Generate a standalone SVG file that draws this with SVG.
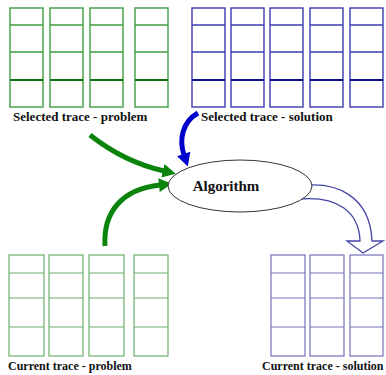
<svg xmlns="http://www.w3.org/2000/svg" width="386" height="375" viewBox="0 0 386 375">
<defs>
<style>
.lbl{font-family:"Liberation Serif","Times New Roman",serif;font-weight:bold;fill:#111}
.tg rect{fill:#fff;stroke:#3f9d3f;stroke-width:1.4}
.tg line{stroke:#3f9d3f;stroke-width:1.3}
.tg line.dk{stroke:#107010;stroke-width:2}
.tb rect{fill:#fff;stroke:#3b3bb0;stroke-width:1.4}
.tb line{stroke:#3b3bb0;stroke-width:1.3}
.tb line.dk{stroke:#10108a;stroke-width:2}
.bg rect{fill:#fff;stroke:#6cae6c;stroke-width:1.2}
.bg line{stroke:#6cae6c;stroke-width:1.1}
.bb rect{fill:#fff;stroke:#7272ba;stroke-width:1.2}
.bb line{stroke:#7272ba;stroke-width:1.1}
.ga{fill:none;stroke:#0b840b;stroke-width:5}
.ba{fill:none;stroke:#0000cc;stroke-width:5}
</style>
<marker id="hg" markerUnits="userSpaceOnUse" markerWidth="16" markerHeight="16" viewBox="0 -8 14 16" refX="1" refY="0" orient="auto">
<path d="M0,-7 L13,0 L0,7 Z" fill="#0b840b"/>
</marker>
<marker id="hb" markerUnits="userSpaceOnUse" markerWidth="16" markerHeight="16" viewBox="0 -8 14 16" refX="1" refY="0" orient="auto">
<path d="M0,-7 L13,0 L0,7 Z" fill="#0000cc"/>
</marker>
</defs>
<rect width="386" height="375" fill="#fff"/>

<g id="selected-problem" class="tg">
<rect x="10" y="8" width="33" height="99"/>
<rect x="50" y="8" width="33" height="99"/>
<rect x="90" y="8" width="33" height="99"/>
<rect x="135" y="8" width="33" height="99"/>
<line x1="10" y1="25" x2="43" y2="25"/><line x1="50" y1="25" x2="83" y2="25"/><line x1="90" y1="25" x2="123" y2="25"/><line x1="135" y1="25" x2="168" y2="25"/>
<line x1="10" y1="52" x2="43" y2="52"/><line x1="50" y1="52" x2="83" y2="52"/><line x1="90" y1="52" x2="123" y2="52"/><line x1="135" y1="52" x2="168" y2="52"/>
<line class="dk" x1="10" y1="80" x2="43" y2="80"/><line class="dk" x1="50" y1="80" x2="83" y2="80"/><line class="dk" x1="90" y1="80" x2="123" y2="80"/><line x1="135" y1="80" x2="168" y2="80" class="dk"/>
<text class="lbl" x="13" y="121" font-size="13">Selected trace - problem</text>
</g>

<g id="selected-solution" class="tb">
<rect x="192" y="8" width="33" height="99"/>
<rect x="231" y="8" width="33" height="99"/>
<rect x="270" y="8" width="33" height="99"/>
<rect x="310" y="8" width="33" height="99"/>
<rect x="350" y="8" width="33" height="99"/>
<line x1="192" y1="25" x2="225" y2="25"/><line x1="231" y1="25" x2="264" y2="25"/><line x1="270" y1="25" x2="303" y2="25"/><line x1="310" y1="25" x2="343" y2="25"/><line x1="350" y1="25" x2="383" y2="25"/>
<line x1="192" y1="52" x2="225" y2="52"/><line x1="231" y1="52" x2="264" y2="52"/><line x1="270" y1="52" x2="303" y2="52"/><line x1="310" y1="52" x2="343" y2="52"/><line x1="350" y1="52" x2="383" y2="52"/>
<line class="dk" x1="192" y1="80" x2="225" y2="80"/><line class="dk" x1="231" y1="80" x2="264" y2="80"/><line class="dk" x1="270" y1="80" x2="303" y2="80"/><line class="dk" x1="310" y1="80" x2="343" y2="80"/><line class="dk" x1="350" y1="80" x2="383" y2="80"/>
<text class="lbl" x="201" y="121" font-size="13">Selected trace - solution</text>
</g>

<g id="current-problem" class="bg">
<rect x="9" y="255" width="35" height="101"/>
<rect x="49" y="255" width="34" height="101"/>
<rect x="89" y="255" width="35" height="101"/>
<rect x="134" y="255" width="34" height="101"/>
<line x1="9" y1="273" x2="44" y2="273"/><line x1="49" y1="273" x2="83" y2="273"/><line x1="89" y1="273" x2="124" y2="273"/><line x1="134" y1="273" x2="168" y2="273"/>
<line x1="9" y1="298" x2="44" y2="298"/><line x1="49" y1="298" x2="83" y2="298"/><line x1="89" y1="298" x2="124" y2="298"/><line x1="134" y1="298" x2="168" y2="298"/>
<line x1="9" y1="327" x2="44" y2="327"/><line x1="49" y1="327" x2="83" y2="327"/><line x1="89" y1="327" x2="124" y2="327"/><line x1="134" y1="327" x2="168" y2="327"/>
<text class="lbl" x="8" y="370" font-size="12">Current trace - problem</text>
</g>

<g id="current-solution" class="bb">
<rect x="271" y="255" width="34" height="101"/>
<rect x="310" y="255" width="34" height="101"/>
<rect x="350" y="255" width="33" height="101"/>
<line x1="271" y1="273" x2="305" y2="273"/><line x1="310" y1="273" x2="344" y2="273"/><line x1="350" y1="273" x2="383" y2="273"/>
<line x1="271" y1="298" x2="305" y2="298"/><line x1="310" y1="298" x2="344" y2="298"/><line x1="350" y1="298" x2="383" y2="298"/>
<line x1="271" y1="327" x2="305" y2="327"/><line x1="310" y1="327" x2="344" y2="327"/><line x1="350" y1="327" x2="383" y2="327"/>
<text class="lbl" x="262" y="370" font-size="12">Current trace - solution</text>
</g>

<g id="connectors">
<path class="ga" d="M90,135 C115,155 138,165 164,171" marker-end="url(#hg)"/>
<path class="ga" d="M105,246 C103,212 122,189 160,185" marker-end="url(#hg)"/>
<path class="ba" d="M198,113 C182,122 179,140 184,155" marker-end="url(#hb)"/>
<path d="M300,186 C335,181 370,195 372,241 L383,241 L363,253 L347,241 L360,241 C359,212 338,196 300,199 Z" fill="#fff" stroke="#4545a8" stroke-width="1.3"/>
</g>

<g id="algorithm">
<ellipse cx="240" cy="186" rx="72" ry="26" fill="#fff" stroke="#333" stroke-width="1"/>
<text class="lbl" x="226" y="191" font-size="15" text-anchor="middle">Algorithm</text>
</g>
</svg>
